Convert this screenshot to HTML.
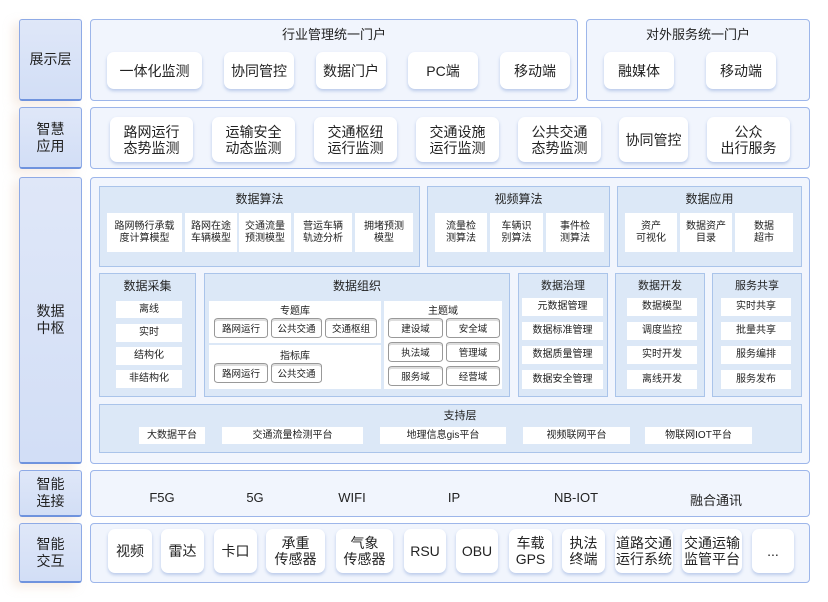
<!DOCTYPE html>
<html><head><meta charset="utf-8"><style>
*{margin:0;padding:0;box-sizing:border-box}
body{width:828px;height:602px;background:#fff;position:relative;overflow:hidden;font-family:"Liberation Sans","Noto Sans CJK SC",sans-serif;color:#222}
.a{position:absolute}
.lab{position:absolute;left:19px;width:63px;background:linear-gradient(#dfe7f8,#d2def6);border:1px solid #8eaae6;border-bottom:2px solid #6f93de;border-radius:3px;display:flex;align-items:center;justify-content:center;text-align:center;font-size:14px;line-height:17px;box-shadow:-6px 4px 10px rgba(230,200,180,.35)}
.pan{position:absolute;background:#f1f5fd;border:1.5px solid #9db6ea;border-radius:4px}
.card{position:absolute;background:#fff;border-radius:7px;box-shadow:0 2px 3px rgba(120,150,210,.45);display:flex;align-items:center;justify-content:center;text-align:center;font-size:14px;line-height:16px}
.sub{position:absolute;background:#dce8f7;border:1px solid #aac4ea}
.w{position:absolute;background:#fff;display:flex;align-items:center;justify-content:center;text-align:center;font-size:10px;line-height:12px}
.t{position:absolute;text-align:center;font-size:12px}
.cy{position:absolute;background:#fff;border:1px solid #999;border-radius:4px/3px;display:flex;align-items:center;justify-content:center;font-size:9.5px;box-shadow:inset 0 2px 0 #ddd}
.n{position:absolute;top:490px;font-size:13px;transform:translateX(-50%)}
</style></head><body>

<div class="lab" style="top:19px;height:82px">展示层</div>
<div class="lab" style="top:107px;height:62px">智慧<br>应用</div>
<div class="lab" style="top:177px;height:287px">数据<br>中枢</div>
<div class="lab" style="top:470px;height:47px">智能<br>连接</div>
<div class="lab" style="top:523px;height:60px">智能<br>交互</div>

<!-- row1 -->
<div class="pan" style="left:90px;top:19px;width:488px;height:82px"></div>
<div class="t" style="left:90px;width:488px;top:24px;font-size:13px">行业管理统一门户</div>
<div class="card" style="left:107px;top:52px;width:95px;height:37px">一体化监测</div>
<div class="card" style="left:224px;top:52px;width:70px;height:37px">协同管控</div>
<div class="card" style="left:316px;top:52px;width:70px;height:37px">数据门户</div>
<div class="card" style="left:408px;top:52px;width:70px;height:37px">PC端</div>
<div class="card" style="left:500px;top:52px;width:70px;height:37px">移动端</div>
<div class="pan" style="left:586px;top:19px;width:224px;height:82px"></div>
<div class="t" style="left:586px;width:224px;top:24px;font-size:13px">对外服务统一门户</div>
<div class="card" style="left:604px;top:52px;width:70px;height:37px">融媒体</div>
<div class="card" style="left:706px;top:52px;width:70px;height:37px">移动端</div>

<!-- row2 -->
<div class="pan" style="left:90px;top:107px;width:720px;height:62px"></div>
<div class="card" style="left:110px;top:117px;width:83px;height:45px">路网运行<br>态势监测</div>
<div class="card" style="left:212px;top:117px;width:83px;height:45px">运输安全<br>动态监测</div>
<div class="card" style="left:314px;top:117px;width:83px;height:45px">交通枢纽<br>运行监测</div>
<div class="card" style="left:416px;top:117px;width:83px;height:45px">交通设施<br>运行监测</div>
<div class="card" style="left:518px;top:117px;width:83px;height:45px">公共交通<br>态势监测</div>
<div class="card" style="left:619px;top:117px;width:69px;height:45px">协同管控</div>
<div class="card" style="left:707px;top:117px;width:83px;height:45px">公众<br>出行服务</div>

<!-- row3 -->
<div class="pan" style="left:90px;top:177px;width:720px;height:287px"></div>
<div class="sub" style="left:99px;top:186px;width:321px;height:81px"></div>
<div class="t" style="left:99px;width:321px;top:190px">数据算法</div>
<div class="w" style="left:107px;top:213px;width:75px;height:39px">路网畅行承载<br>度计算模型</div>
<div class="w" style="left:185px;top:213px;width:52px;height:39px">路网在途<br>车辆模型</div>
<div class="w" style="left:239px;top:213px;width:52px;height:39px">交通流量<br>预测模型</div>
<div class="w" style="left:294px;top:213px;width:58px;height:39px">营运车辆<br>轨迹分析</div>
<div class="w" style="left:355px;top:213px;width:58px;height:39px">拥堵预测<br>模型</div>

<div class="sub" style="left:427px;top:186px;width:183px;height:81px"></div>
<div class="t" style="left:427px;width:183px;top:190px">视频算法</div>
<div class="w" style="left:435px;top:213px;width:52px;height:39px">流量检<br>测算法</div>
<div class="w" style="left:490px;top:213px;width:53px;height:39px">车辆识<br>别算法</div>
<div class="w" style="left:546px;top:213px;width:58px;height:39px">事件检<br>测算法</div>

<div class="sub" style="left:617px;top:186px;width:185px;height:81px"></div>
<div class="t" style="left:617px;width:185px;top:190px">数据应用</div>
<div class="w" style="left:625px;top:213px;width:52px;height:39px">资产<br>可视化</div>
<div class="w" style="left:680px;top:213px;width:52px;height:39px">数据资产<br>目录</div>
<div class="w" style="left:735px;top:213px;width:58px;height:39px">数据<br>超市</div>

<div class="sub" style="left:99px;top:273px;width:97px;height:124px"></div>
<div class="t" style="left:99px;width:97px;top:277px">数据采集</div>
<div class="w" style="left:116px;top:301px;width:66px;height:17px">离线</div>
<div class="w" style="left:116px;top:324px;width:66px;height:18px">实时</div>
<div class="w" style="left:116px;top:347px;width:66px;height:18px">结构化</div>
<div class="w" style="left:116px;top:370px;width:66px;height:18px">非结构化</div>

<div class="sub" style="left:204px;top:273px;width:306px;height:124px"></div>
<div class="t" style="left:204px;width:306px;top:277px">数据组织</div>
<div class="a" style="left:209px;top:301px;width:172px;height:42px;background:#fff"></div>
<div class="a" style="left:209px;top:345px;width:172px;height:44px;background:#fff"></div>
<div class="a" style="left:384px;top:301px;width:118px;height:88px;background:#fff"></div>
<div class="t" style="left:209px;width:172px;top:302px;font-size:10px">专题库</div>
<div class="t" style="left:209px;width:172px;top:347px;font-size:10px">指标库</div>
<div class="t" style="left:384px;width:118px;top:302px;font-size:10px">主题域</div>
<div class="cy" style="left:214px;top:318px;width:54px;height:20px">路网运行</div>
<div class="cy" style="left:271px;top:318px;width:51px;height:20px">公共交通</div>
<div class="cy" style="left:325px;top:318px;width:52px;height:20px">交通枢组</div>
<div class="cy" style="left:214px;top:363px;width:54px;height:20px">路网运行</div>
<div class="cy" style="left:271px;top:363px;width:51px;height:20px">公共交通</div>
<div class="cy" style="left:388px;top:318px;width:55px;height:20px">建设域</div>
<div class="cy" style="left:446px;top:318px;width:54px;height:20px">安全域</div>
<div class="cy" style="left:388px;top:342px;width:55px;height:20px">执法域</div>
<div class="cy" style="left:446px;top:342px;width:54px;height:20px">管理域</div>
<div class="cy" style="left:388px;top:366px;width:55px;height:20px">服务域</div>
<div class="cy" style="left:446px;top:366px;width:54px;height:20px">经营域</div>

<div class="sub" style="left:518px;top:273px;width:90px;height:124px"></div>
<div class="t" style="left:518px;width:90px;top:277px;font-size:11px">数据治理</div>
<div class="w" style="left:522px;top:298px;width:81px;height:18px">元数据管理</div>
<div class="w" style="left:522px;top:322px;width:81px;height:18px">数据标准管理</div>
<div class="w" style="left:522px;top:346px;width:81px;height:18px">数据质量管理</div>
<div class="w" style="left:522px;top:370px;width:81px;height:19px">数据安全管理</div>

<div class="sub" style="left:615px;top:273px;width:90px;height:124px"></div>
<div class="t" style="left:615px;width:90px;top:277px;font-size:11px">数据开发</div>
<div class="w" style="left:627px;top:298px;width:70px;height:18px">数据模型</div>
<div class="w" style="left:627px;top:322px;width:70px;height:18px">调度监控</div>
<div class="w" style="left:627px;top:346px;width:70px;height:18px">实时开发</div>
<div class="w" style="left:627px;top:370px;width:70px;height:19px">离线开发</div>

<div class="sub" style="left:712px;top:273px;width:90px;height:124px"></div>
<div class="t" style="left:712px;width:90px;top:277px;font-size:11px">服务共享</div>
<div class="w" style="left:721px;top:298px;width:70px;height:18px">实时共享</div>
<div class="w" style="left:721px;top:322px;width:70px;height:18px">批量共享</div>
<div class="w" style="left:721px;top:346px;width:70px;height:18px">服务编排</div>
<div class="w" style="left:721px;top:370px;width:70px;height:19px">服务发布</div>

<div class="sub" style="left:99px;top:404px;width:703px;height:49px"></div>
<div class="t" style="left:430px;width:60px;top:407px;font-size:11px">支持层</div>
<div class="w" style="left:139px;top:427px;width:66px;height:17px">大数据平台</div>
<div class="w" style="left:222px;top:427px;width:141px;height:17px">交通流量检测平台</div>
<div class="w" style="left:380px;top:427px;width:126px;height:17px">地理信息gis平台</div>
<div class="w" style="left:523px;top:427px;width:107px;height:17px">视频联网平台</div>
<div class="w" style="left:645px;top:427px;width:107px;height:17px">物联网IOT平台</div>

<!-- row4 -->
<div class="pan" style="left:90px;top:470px;width:720px;height:47px"></div>
<div class="n" style="left:162px">F5G</div>
<div class="n" style="left:255px">5G</div>
<div class="n" style="left:352px">WIFI</div>
<div class="n" style="left:454px">IP</div>
<div class="n" style="left:576px">NB-IOT</div>
<div class="n" style="left:716px">融合通讯</div>

<!-- row5 -->
<div class="pan" style="left:90px;top:523px;width:720px;height:60px"></div>
<div class="card" style="left:108px;top:529px;width:44px;height:44px">视频</div>
<div class="card" style="left:161px;top:529px;width:43px;height:44px">雷达</div>
<div class="card" style="left:214px;top:529px;width:43px;height:44px">卡口</div>
<div class="card" style="left:266px;top:529px;width:59px;height:44px">承重<br>传感器</div>
<div class="card" style="left:336px;top:529px;width:57px;height:44px">气象<br>传感器</div>
<div class="card" style="left:404px;top:529px;width:42px;height:44px">RSU</div>
<div class="card" style="left:456px;top:529px;width:42px;height:44px">OBU</div>
<div class="card" style="left:509px;top:529px;width:43px;height:44px">车载<br>GPS</div>
<div class="card" style="left:562px;top:529px;width:43px;height:44px">执法<br>终端</div>
<div class="card" style="left:615px;top:529px;width:58px;height:44px">道路交通<br>运行系统</div>
<div class="card" style="left:682px;top:529px;width:60px;height:44px">交通运输<br>监管平台</div>
<div class="card" style="left:752px;top:529px;width:42px;height:44px">...</div>

</body></html>
